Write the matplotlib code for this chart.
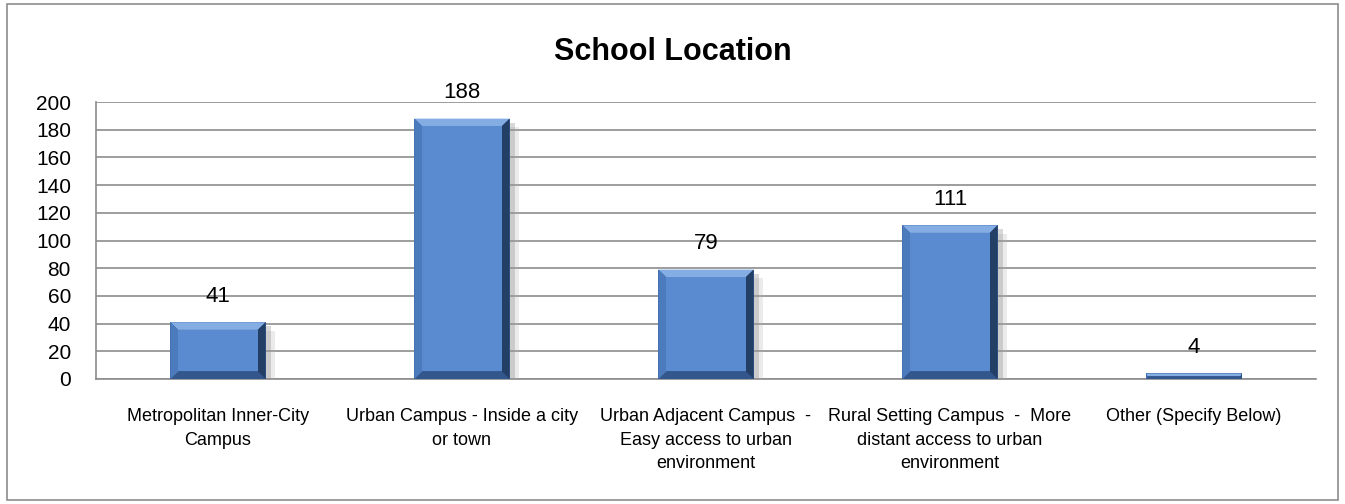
import matplotlib
matplotlib.use("Agg")
import matplotlib.pyplot as plt
import matplotlib.patheffects as pe
from matplotlib.patches import Rectangle

# data
categories = [
    "Metropolitan Inner-City\nCampus",
    "Urban Campus - Inside a city\nor town",
    "Urban Adjacent Campus  -\nEasy access to urban\nenvironment",
    "Rural Setting Campus  -  More\ndistant access to urban\nenvironment",
    "Other (Specify Below)",
]
counts = [41, 188, 79, 111, 4]
yticks = list(range(0, 201, 20))

plt.rcParams["font.family"] = ["Liberation Sans", "DejaVu Sans"]

fig = plt.figure(figsize=(13.45, 5.04), dpi=100)
fig.patches.append(Rectangle((0.005, 0.008), 0.99, 0.985, transform=fig.transFigure,
                             fill=False, edgecolor="#8c8c8c", linewidth=1.2))

ax = fig.add_axes([96 / 1345, 1 - 379 / 504, 1220 / 1345, 277 / 504])
x = list(range(len(counts)))
bw = 0.39
dx = 0.032   # bevel width in x units
dy = 5.5     # bevel height in data units

# base bar with soft shadow
base = ax.bar(x, counts, width=bw, color="#3a64a0", linewidth=0, zorder=3)
for b in base:
    b.set_path_effects([pe.SimplePatchShadow(offset=(7, -6), shadow_rgbFace="#b0b0b0", alpha=0.25),
                        pe.SimplePatchShadow(offset=(4, -3), shadow_rgbFace="#909090", alpha=0.35),
                        pe.Normal()])

# beveled faces
for xi, v in zip(x, counts):
    L, R = xi - bw / 2, xi + bw / 2
    iy = min(dy, v * 0.5)
    ix = dx if v > 8 else 0.004
    ax.fill([L, R, R - ix, L + ix], [v, v, v - iy, v - iy], color="#84ade4", lw=0, zorder=4)
    ax.fill([L, R, R - ix, L + ix], [0, 0, iy, iy], color="#33578c", lw=0, zorder=4)
    ax.fill([L, L, L + ix, L + ix], [0, v, v - iy, iy], color="#4c7bbd", lw=0, zorder=4)
    ax.fill([R, R, R - ix, R - ix], [0, v, v - iy, iy], color="#243f66", lw=0, zorder=4)
    if v > 2 * iy:
        ax.bar(xi, v - 2 * iy, bottom=iy, width=bw - 2 * ix, color="#5a8ad0", linewidth=0, zorder=4)

for xi, v in zip(x, counts):
    ax.text(xi, v + 11, str(v), ha="center", va="bottom", fontsize=16)

ax.set_xlim(-0.5, len(counts) - 0.5)
ax.set_ylim(0, 200)
ax.set_yticks(yticks)
ax.set_yticklabels([str(t) for t in yticks], fontsize=15)
ax.set_xticks(x)
ax.set_xticklabels(categories, fontsize=13, linespacing=1.5)
ax.tick_params(axis="x", length=0, pad=21)
ax.tick_params(axis="y", length=0, pad=18)
ax.grid(axis="y", color="#8c8c8c", linewidth=1.2, zorder=0)
for s in ax.spines.values():
    s.set_color("#8c8c8c")
    s.set_linewidth(1.2)
ax.spines["top"].set_visible(False)
ax.spines["right"].set_visible(False)

fig.text(673 / 1345, 1 - 52 / 504, "School Location", ha="center", va="center",
         fontsize=22, fontweight="bold")

fig.savefig("out.png", dpi=100)
